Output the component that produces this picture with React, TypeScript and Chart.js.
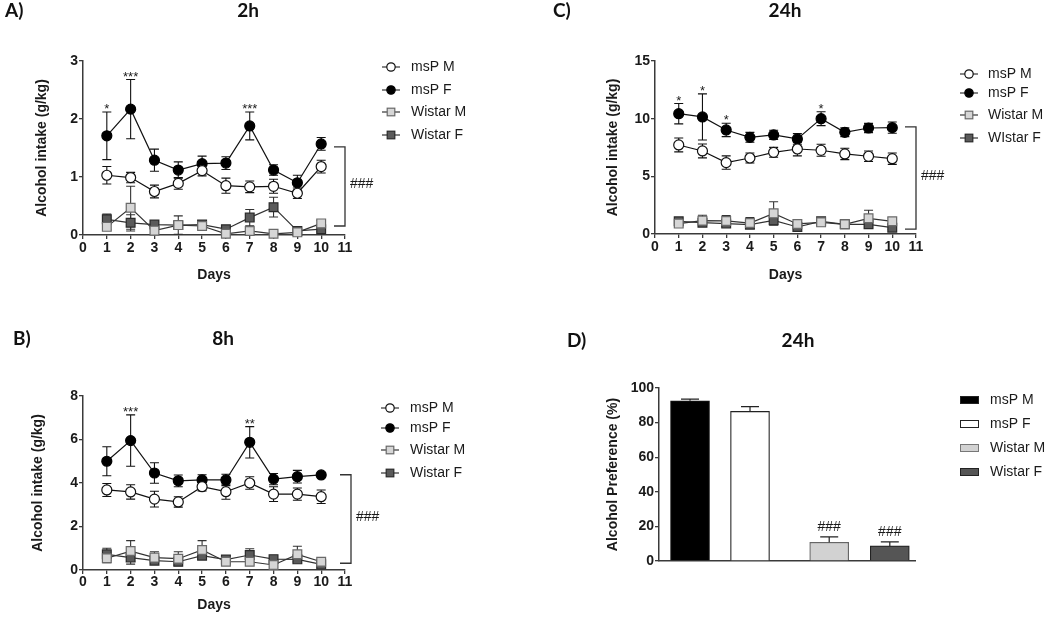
import React, { useEffect, useRef } from 'react';
import { Chart, registerables } from 'chart.js';

Chart.register(...registerables);

// ---------- data ----------
const days = [1, 2, 3, 4, 5, 6, 7, 8, 9, 10];
const seriesNames = ['msP M', 'msP F', 'Wistar M', 'Wistar F'];
const seriesNamesC = ['msP M', 'msP F', 'Wistar M', 'WIstar F'];

// A) 2h
const h2MspM = [1.03, 0.99, 0.75, 0.89, 1.11, 0.85, 0.83, 0.84, 0.72, 1.18];
const h2MspMErr = [0.15, 0.09, 0.11, 0.1, 0.09, 0.13, 0.1, 0.12, 0.09, 0.11];
const h2MspF = [1.71, 2.17, 1.29, 1.12, 1.23, 1.24, 1.88, 1.12, 0.9, 1.57];
const h2MspFErr = [0.41, 0.51, 0.19, 0.14, 0.13, 0.11, 0.24, 0.09, 0.13, 0.11];
const h2WisM = [0.14, 0.47, 0.075, 0.17, 0.155, 0.02, 0.07, 0.02, 0.045, 0.2];
const h2WisMErr = [0.05, 0.37, 0.06, 0.16, 0.04, 0.02, 0.05, 0.02, 0.02, 0.05];
const h2WisF = [0.27, 0.21, 0.18, 0.17, 0.18, 0.1, 0.3, 0.48, 0.07, 0.1];
const h2WisFErr = [0.09, 0.14, 0.05, 0.06, 0.04, 0.04, 0.14, 0.17, 0.03, 0.04];
const h2Stars = ['*', '***', '', '', '', '', '***', '', '', ''];
const h2Bracket = [1.52, 0.155];

// B) 8h
const h8MspM = [3.68, 3.59, 3.26, 3.13, 3.83, 3.6, 4.0, 3.49, 3.49, 3.37];
const h8MspMErr = [0.3, 0.33, 0.36, 0.24, 0.2, 0.35, 0.29, 0.34, 0.28, 0.31];
const h8MspF = [5.0, 5.95, 4.46, 4.1, 4.14, 4.14, 5.87, 4.18, 4.29, 4.37];
const h8MspFErr = [0.67, 1.18, 0.47, 0.27, 0.24, 0.26, 0.72, 0.26, 0.29, 0.06];
const h8WisM = [0.54, 0.87, 0.57, 0.52, 0.92, 0.38, 0.38, 0.23, 0.72, 0.38];
const h8WisMErr = [0.2, 0.48, 0.27, 0.32, 0.43, 0.1, 0.1, 0.1, 0.37, 0.08];
const h8WisF = [0.72, 0.57, 0.43, 0.38, 0.66, 0.48, 0.69, 0.5, 0.49, 0.26];
const h8WisFErr = [0.28, 0.3, 0.1, 0.15, 0.15, 0.1, 0.29, 0.1, 0.1, 0.06];
const h8Stars = ['', '***', '', '', '', '', '**', '', '', ''];
const h8Bracket = [4.38, 0.31];

// C) 24h
const h24MspM = [7.72, 7.2, 6.19, 6.59, 7.08, 7.37, 7.26, 6.94, 6.74, 6.53];
const h24MspMErr = [0.6, 0.6, 0.58, 0.43, 0.43, 0.6, 0.52, 0.49, 0.46, 0.49];
const h24MspF = [10.43, 10.15, 9.02, 8.38, 8.59, 8.24, 10.0, 8.82, 9.19, 9.22];
const h24MspFErr = [0.88, 2.0, 0.58, 0.43, 0.4, 0.46, 0.6, 0.38, 0.4, 0.49];
const h24WisM = [0.9, 1.16, 1.13, 0.95, 1.79, 0.87, 1.01, 0.84, 1.36, 1.1];
const h24WisMErr = [0.15, 0.46, 0.46, 0.47, 1.0, 0.2, 0.15, 0.1, 0.7, 0.3];
const h24WisF = [1.1, 0.98, 0.9, 0.81, 1.18, 0.61, 1.1, 0.84, 0.84, 0.55];
const h24WisFErr = [0.2, 0.3, 0.2, 0.2, 0.4, 0.15, 0.15, 0.1, 0.25, 0.15];
const h24Stars = ['*', '*', '*', '', '', '', '*', '', '', ''];
const h24Bracket = [9.28, 0.43];

// D) 24h preference
const barCategories = ['msP M', 'msP F', 'Wistar M', 'Wistar F'];
const prefValues = [92.6, 86.5, 10.8, 8.7];
const prefErr = [1.0, 2.7, 3.2, 2.3];
const prefMarks = ['', '', '###', '###'];

const yTicks2h = [0, 1, 2, 3];
const yTicks8h = [0, 2, 4, 6, 8];
const yTicks24h = [0, 5, 10, 15];
const yTicksPref = [0, 20, 40, 60, 80, 100];

// ---------- styles ----------
const FONT = "Arial, 'Liberation Sans', sans-serif";
const HEAD_FONT = "Lato, 'Open Sans', sans-serif";
const TEXT = '#1a1a1a';
const AXIS = '#3a3a3a';

const lineStyles = [
  { pointStyle: 'circle', bg: '#ffffff', border: '#111111', radius: 5, line: '#111111' },
  { pointStyle: 'circle', bg: '#000000', border: '#000000', radius: 5, line: '#111111' },
  { pointStyle: 'rect', bg: '#d6d6d6', border: '#6a6a6a', radius: 6.2, line: '#333333' },
  { pointStyle: 'rect', bg: '#5a5a5a', border: '#2a2a2a', radius: 6.2, line: '#333333' },
];
const barColors = ['#000000', '#ffffff', '#d2d2d2', '#555555'];
const barSlots = [1, 2, 3.32, 4.33];

type PanelSpec = {
  x: number; y: number; w: number; h: number;
  area: { left: number; right: number; top: number; bottom: number };
  yTitleX: number; daysY: number; xTickPad: number;
  yTicks: number[];
  names: string[];
  series: number[][];
  errors: number[][];
  stars: string[];
  bracket: number[];
  bracketDx: number;
  legend: { x0: number; textX: number; rows: number[] };
  letter: string; letterX: number; title: string; titleX: number; headY: number;
};

function drawHead(ctx: CanvasRenderingContext2D, s: { letter: string; letterX: number; title: string; titleX: number; headY: number }) {
  ctx.save();
  ctx.fillStyle = '#111';
  ctx.font = `bold 19px ${HEAD_FONT}`;
  ctx.textBaseline = 'middle';
  ctx.textAlign = 'left';
  ctx.fillText(s.letter, s.letterX, s.headY);
  ctx.textAlign = 'center';
  ctx.fillText(s.title, s.titleX, s.headY);
  ctx.restore();
}

function drawMarker(ctx: CanvasRenderingContext2D, st: any, cx: number, cy: number) {
  ctx.fillStyle = st.bg;
  ctx.strokeStyle = st.border;
  ctx.lineWidth = 1.2;
  if (st.pointStyle === 'circle') {
    ctx.beginPath();
    ctx.arc(cx, cy, 4.2, 0, Math.PI * 2);
    ctx.fill();
    ctx.stroke();
  } else {
    ctx.fillRect(cx - 3.8, cy - 3.8, 7.6, 7.6);
    ctx.strokeRect(cx - 3.8, cy - 3.8, 7.6, 7.6);
  }
}

function LinePanel({ spec }: { spec: PanelSpec }) {
  const ref = useRef<HTMLCanvasElement | null>(null);
  useEffect(() => {
    const s = spec;
    const lh = 14 * 1.2;
    const padLeft = s.yTitleX - lh / 2;
    const yW = s.area.left - padLeft;
    const padBottom = s.h - s.daysY - lh / 2;
    const xH = s.h - padBottom - s.area.bottom;
    const yMax = s.yTicks[s.yTicks.length - 1];
    const yStep = s.yTicks[1] - s.yTicks[0];

    const datasets = s.series.map((vals, i) => ({
      label: s.names[i],
      data: days.map((d, j) => ({ x: d, y: vals[j] })),
      borderColor: lineStyles[i].line,
      backgroundColor: lineStyles[i].bg,
      borderWidth: 1.2,
      pointStyle: lineStyles[i].pointStyle,
      pointRadius: lineStyles[i].radius,
      pointBackgroundColor: lineStyles[i].bg,
      pointBorderColor: lineStyles[i].border,
      pointBorderWidth: 1.2,
      fill: false,
      tension: 0,
      clip: false as any,
    }));

    const extras = {
      id: 'extras',
      beforeDatasetsDraw(chart: any) {
        const ctx = chart.ctx as CanvasRenderingContext2D;
        const ys = chart.scales.y;
        ctx.save();
        ctx.lineWidth = 1.1;
        s.errors.forEach((errs, i) => {
          const meta = chart.getDatasetMeta(i);
          ctx.strokeStyle = i < 2 ? '#111' : '#333';
          meta.data.forEach((pt: any, j: number) => {
            const v = s.series[i][j];
            const e = errs[j];
            const yt = ys.getPixelForValue(v + e);
            const yb = ys.getPixelForValue(Math.max(0, v - e));
            ctx.beginPath();
            ctx.moveTo(pt.x, yt); ctx.lineTo(pt.x, yb);
            ctx.moveTo(pt.x - 4.5, yt); ctx.lineTo(pt.x + 4.5, yt);
            ctx.moveTo(pt.x - 4.5, yb); ctx.lineTo(pt.x + 4.5, yb);
            ctx.stroke();
          });
        });
        ctx.restore();
      },
      afterDraw(chart: any) {
        const ctx = chart.ctx as CanvasRenderingContext2D;
        const xs = chart.scales.x;
        const ys = chart.scales.y;
        ctx.save();
        // significance stars above msP F
        ctx.fillStyle = TEXT;
        ctx.font = `13px ${FONT}`;
        ctx.textAlign = 'center';
        ctx.textBaseline = 'alphabetic';
        s.stars.forEach((st, j) => {
          if (!st) return;
          const cap = ys.getPixelForValue(s.series[1][j] + s.errors[1][j]);
          ctx.fillText(st, xs.getPixelForValue(days[j]), cap + 1);
        });
        // bracket
        const bx = xs.getPixelForValue(11) + s.bracketDx;
        const bt = ys.getPixelForValue(s.bracket[0]);
        const bb = ys.getPixelForValue(s.bracket[1]);
        ctx.strokeStyle = '#333';
        ctx.lineWidth = 1.3;
        ctx.beginPath();
        ctx.moveTo(bx - 11, bt); ctx.lineTo(bx, bt); ctx.lineTo(bx, bb); ctx.lineTo(bx - 11, bb);
        ctx.stroke();
        ctx.fillStyle = TEXT;
        ctx.font = `14px ${FONT}`;
        ctx.textAlign = 'left';
        ctx.textBaseline = 'middle';
        ctx.fillText('###', bx + 5, (bt + bb) / 2 - 2);
        // legend
        s.names.forEach((name, i) => {
          const ry = s.legend.rows[i];
          ctx.strokeStyle = '#333';
          ctx.lineWidth = 1.2;
          ctx.beginPath();
          ctx.moveTo(s.legend.x0, ry); ctx.lineTo(s.legend.x0 + 18, ry);
          ctx.stroke();
          drawMarker(ctx, lineStyles[i], s.legend.x0 + 9, ry);
          ctx.fillStyle = TEXT;
          ctx.font = `14px ${FONT}`;
          ctx.textAlign = 'left';
          ctx.textBaseline = 'middle';
          ctx.fillText(name, s.legend.textX, ry);
        });
        ctx.restore();
        drawHead(ctx, s);
      },
    };

    const chart = new Chart(ref.current as HTMLCanvasElement, {
      type: 'line',
      data: { datasets: datasets as any },
      options: {
        animation: false,
        responsive: false,
        devicePixelRatio: 1,
        layout: { padding: { left: padLeft, right: s.w - s.area.right, top: s.area.top, bottom: padBottom } },
        plugins: { legend: { display: false }, tooltip: { enabled: false } },
        scales: {
          x: {
            type: 'linear', min: 0, max: 11, offset: false,
            afterFit: (sc: any) => { sc.height = xH; },
            ticks: { stepSize: 1, autoSkip: false, maxRotation: 0, padding: s.xTickPad, color: TEXT, font: { family: FONT, size: 14, weight: 'bold' } },
            grid: { display: true, drawOnChartArea: false, tickLength: 4, color: AXIS, lineWidth: 1.3 },
            border: { display: true, color: AXIS, width: 1.5 },
            title: { display: true, text: 'Days', color: TEXT, padding: 0, font: { family: FONT, size: 14, weight: 'bold' } },
          },
          y: {
            type: 'linear', min: 0, max: yMax,
            afterFit: (sc: any) => { sc.width = yW; },
            ticks: { stepSize: yStep, padding: 1, color: TEXT, font: { family: FONT, size: 14, weight: 'bold' } },
            grid: { display: true, drawOnChartArea: false, tickLength: 4, color: AXIS, lineWidth: 1.3 },
            border: { display: true, color: AXIS, width: 1.5 },
            title: { display: true, text: 'Alcohol intake (g/kg)', color: TEXT, padding: 0, font: { family: FONT, size: 14, weight: 'bold' } },
          },
        },
      } as any,
      plugins: [extras],
    });
    return () => chart.destroy();
  }, []);
  return (
    <canvas
      ref={ref}
      width={spec.w}
      height={spec.h}
      style={{ position: 'absolute', left: spec.x, top: spec.y, width: spec.w, height: spec.h }}
    />
  );
}

function BarPanel() {
  const ref = useRef<HTMLCanvasElement | null>(null);
  const W = 525, H = 311;
  const area = { left: 134, right: 390, top: 77, bottom: 250 };
  useEffect(() => {
    const lh = 14 * 1.2;
    const padLeft = 88 - lh / 2;
    const yW = area.left - padLeft;
    const xH = 4;
    const padBottom = H - area.bottom - xH;
    const extras = {
      id: 'barExtras',
      afterDatasetsDraw(chart: any) {
        const ctx = chart.ctx as CanvasRenderingContext2D;
        const ys = chart.scales.y;
        const meta = chart.getDatasetMeta(0);
        ctx.save();
        ctx.strokeStyle = '#222';
        ctx.lineWidth = 1.2;
        meta.data.forEach((bar: any, i: number) => {
          const top = ys.getPixelForValue(prefValues[i]);
          const cap = ys.getPixelForValue(prefValues[i] + prefErr[i]);
          ctx.strokeStyle = '#222';
          ctx.beginPath();
          ctx.moveTo(bar.x, top); ctx.lineTo(bar.x, cap);
          ctx.moveTo(bar.x - 9, cap); ctx.lineTo(bar.x + 9, cap);
          ctx.stroke();
          if (prefMarks[i]) {
            ctx.fillStyle = TEXT;
            ctx.font = `14px ${FONT}`;
            ctx.textAlign = 'center';
            ctx.textBaseline = 'middle';
            ctx.fillText(prefMarks[i], bar.x, cap - 10);
          }
        });
        // legend
        const rows = [89, 113, 137, 161];
        barCategories.forEach((name, i) => {
          ctx.fillStyle = barColors[i];
          ctx.strokeStyle = i === 2 ? '#777' : '#222';
          ctx.lineWidth = 1;
          ctx.fillRect(435, rows[i] - 4, 19, 8);
          ctx.strokeRect(435.5, rows[i] - 3.5, 18, 7);
          ctx.fillStyle = TEXT;
          ctx.font = `14px ${FONT}`;
          ctx.textAlign = 'left';
          ctx.textBaseline = 'middle';
          ctx.fillText(name, 465, rows[i]);
        });
        ctx.restore();
        drawHead(ctx, { letter: 'D)', letterX: 42, title: '24h', titleX: 273, headY: 30 });
      },
    };
    const chart = new Chart(ref.current as HTMLCanvasElement, {
      type: 'bar',
      data: {
        datasets: [{
          label: 'Alcohol Preference (%)',
          data: barSlots.map((x, i) => ({ x, y: prefValues[i] })),
          backgroundColor: barColors,
          borderColor: ['#111', '#222', '#666', '#222'],
          borderWidth: 1.2,
          barThickness: 39,
        }],
      },
      options: {
        animation: false,
        responsive: false,
        devicePixelRatio: 1,
        layout: { padding: { left: padLeft, right: W - area.right, top: area.top, bottom: padBottom } },
        plugins: { legend: { display: false }, tooltip: { enabled: false } },
        scales: {
          x: {
            type: 'linear', min: 0.483, max: 4.75, offset: false,
            afterFit: (sc: any) => { sc.height = xH; },
            ticks: { display: false },
            grid: { display: false },
            border: { display: true, color: AXIS, width: 1.5 },
          },
          y: {
            type: 'linear', min: yTicksPref[0], max: yTicksPref[yTicksPref.length - 1],
            afterFit: (sc: any) => { sc.width = yW; },
            ticks: { stepSize: yTicksPref[1] - yTicksPref[0], padding: 1, color: TEXT, font: { family: FONT, size: 14, weight: 'bold' } },
            grid: { display: true, drawOnChartArea: false, tickLength: 4, color: AXIS, lineWidth: 1.3 },
            border: { display: true, color: AXIS, width: 1.5 },
            title: { display: true, text: 'Alcohol Preference (%)', color: TEXT, padding: 0, font: { family: FONT, size: 14, weight: 'bold' } },
          },
        },
      } as any,
      plugins: [extras],
    });
    return () => chart.destroy();
  }, []);
  return (
    <canvas ref={ref} width={W} height={H} style={{ position: 'absolute', left: 525, top: 311, width: W, height: H }} />
  );
}

const specA: PanelSpec = {
  x: 0, y: 0, w: 525, h: 311,
  area: { left: 83, right: 345, top: 61, bottom: 235 },
  yTitleX: 42, daysY: 275, xTickPad: 1,
  yTicks: yTicks2h,
  names: seriesNames,
  series: [h2MspM, h2MspF, h2WisM, h2WisF],
  errors: [h2MspMErr, h2MspFErr, h2WisMErr, h2WisFErr],
  stars: h2Stars, bracket: h2Bracket, bracketDx: 0,
  legend: { x0: 382, textX: 411, rows: [67, 90, 112, 135] },
  letter: 'A)', letterX: 5, title: '2h', titleX: 248, headY: 11,
};

const specB: PanelSpec = {
  x: 0, y: 311, w: 525, h: 311,
  area: { left: 83, right: 345, top: 85, bottom: 259 },
  yTitleX: 38, daysY: 294, xTickPad: 0,
  yTicks: yTicks8h,
  names: seriesNames,
  series: [h8MspM, h8MspF, h8WisM, h8WisF],
  errors: [h8MspMErr, h8MspFErr, h8WisMErr, h8WisFErr],
  stars: h8Stars, bracket: h8Bracket, bracketDx: 6,
  legend: { x0: 381, textX: 410, rows: [97, 117, 139, 162] },
  letter: 'B)', letterX: 13, title: '8h', titleX: 223, headY: 28,
};

const specC: PanelSpec = {
  x: 525, y: 0, w: 525, h: 311,
  area: { left: 130, right: 391, top: 61, bottom: 234 },
  yTitleX: 88, daysY: 275, xTickPad: 1,
  yTicks: yTicks24h,
  names: seriesNamesC,
  series: [h24MspM, h24MspF, h24WisM, h24WisF],
  errors: [h24MspMErr, h24MspFErr, h24WisMErr, h24WisFErr],
  stars: h24Stars, bracket: h24Bracket, bracketDx: 0,
  legend: { x0: 435, textX: 463, rows: [74, 93, 115, 138] },
  letter: 'C)', letterX: 28, title: '24h', titleX: 260, headY: 11,
};

export default function App() {
  return (
    <div style={{ position: 'absolute', left: 0, top: 0, width: 1050, height: 622, background: '#ffffff' }}>
      <LinePanel spec={specA} />
      <LinePanel spec={specC} />
      <LinePanel spec={specB} />
      <BarPanel />
    </div>
  );
}
